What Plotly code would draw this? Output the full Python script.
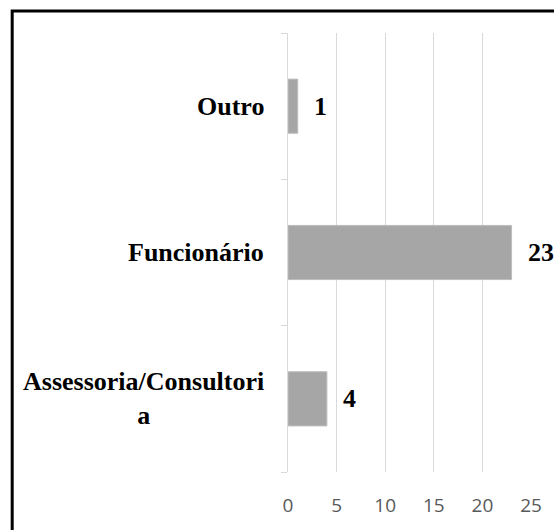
import plotly.graph_objects as go

# data (bottom to top, as plotly draws categories)
categories = ['Assessoria/Consultoria', 'Funcionário', 'Outro']
labels = ['Assessoria/Consultori<br>a', 'Funcionário', 'Outro']
values = [4, 23, 1]
x_ticks = [0, 5, 10, 15, 20, 25]

SERIF = 'Liberation Serif, Times New Roman, serif'
SANS = 'Open Sans, Liberation Sans, sans-serif'

fig = go.Figure()
fig.add_trace(go.Bar(
	y=categories,
	x=values,
	orientation='h',
	width=0.37,
	marker=dict(color='#a6a6a6', line=dict(color='#bdbdbd', width=1)),
	hoverinfo='x+y',
))

# category labels (centred multi-line, like Excel)
for cat, lab in zip(categories, labels):
	fig.add_annotation(
		x=0, y=cat, xref='x', yref='y',
		text=lab, showarrow=False,
		xanchor='right', align='center', xshift=-22,
		font=dict(family=SERIF, size=26, color='black', weight='bold'),
	)

# data labels
for cat, v in zip(categories, values):
	fig.add_annotation(
		x=v, y=cat, xref='x', yref='y',
		text=str(v), showarrow=False,
		xanchor='left', xshift=14,
		font=dict(family=SERIF, size=26, color='black', weight='bold'),
	)

# outer chart border (cropped on the right and bottom)
fig.add_shape(
	type='rect', xref='paper', yref='paper',
	x0=-1.135, x1=1.5, y0=-0.5, y1=1.05,
	line=dict(color='black', width=3), layer='above',
)

fig.update_layout(
	width=554,
	height=530,
	margin=dict(l=288, r=16, t=33, b=57),
	paper_bgcolor='white',
	plot_bgcolor='white',
	showlegend=False,
	xaxis=dict(
		range=[0, 25],
		tickvals=x_ticks,
		showgrid=True,
		gridcolor='#d9d9d9',
		gridwidth=1,
		zeroline=False,
		showline=False,
		tickfont=dict(family=SANS, size=19, color='#595959'),
		ticklabelstandoff=20,
	),
	yaxis=dict(
		categoryorder='array',
		categoryarray=categories,
		showticklabels=False,
		showgrid=False,
		zeroline=False,
		showline=True,
		linecolor='#d9d9d9',
		linewidth=1,
		ticks='outside',
		tickson='boundaries',
		ticklen=6,
		tickcolor='#d9d9d9',
	),
)

fig.write_html("out.html", config={'displayModeBar': False},
			   post_script="document.body.style.margin='0';")
